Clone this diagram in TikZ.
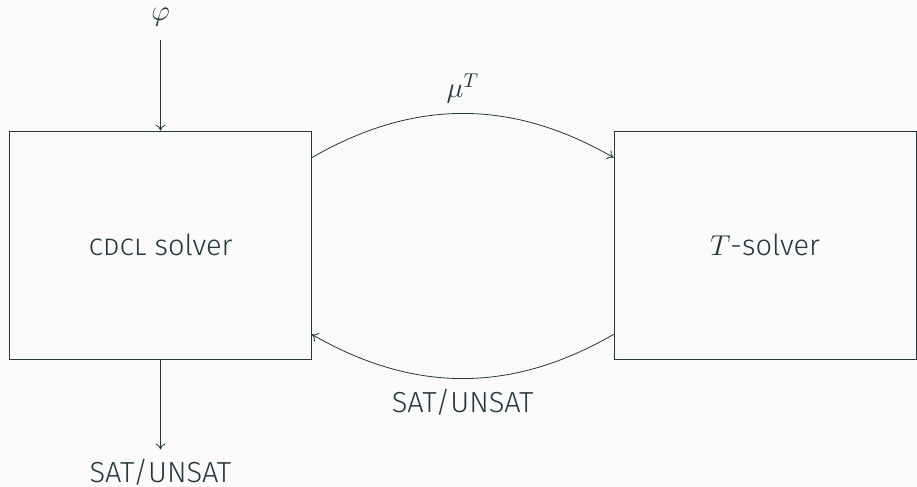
\documentclass[tikz,border=0pt]{standalone}
\usepackage{fontspec}
\setmainfont{Fira Sans}[UprightFont={* Light}, ItalicFont={* Light Italic}, BoldFont={* Medium}]
\usetikzlibrary{arrows.meta}
\definecolor{ink}{HTML}{23373B}
\definecolor{paper}{HTML}{FAFAFA}
\begin{document}
\begin{tikzpicture}[x=0.5pt, y=-0.5pt,
  every node/.style={text=ink, font=\fontsize{14.5}{17}\selectfont},
  block/.style={draw=ink, line width=0.4pt, minimum width=151pt, minimum height=114pt, inner sep=0pt},
  flow/.style={draw=ink, line width=0.4pt, -{To[length=3pt, width=5pt]}},
  lbl/.style={inner sep=2pt}]
  % canvas
  \fill[paper] (0,0) rectangle (917,487);
  \useasboundingbox (0,0) rectangle (917,487);

  % the two solvers
  \node[block] (cdcl) at (160.5,245) {\textsc{cdcl} solver};
  \node[block] (tsolver) at (765,245) {$T$-solver};

  % input formula and final answer
  \node[lbl] (phi) at (160.5,17) {$\varphi$};
  \node[lbl] (result) at (160.5,472) {SAT/UNSAT};
  \draw[flow] ([yshift=-5pt]phi.south) -- (cdcl.north);
  \draw[flow] (cdcl.south) -- ([yshift=2.5pt]result.north);

  % exchange between the solvers
  \draw[flow] ([yshift=-13.5pt]cdcl.north east) to[bend left=30]
    node[lbl, above=3pt] (mu) {$\mu^T$} ([yshift=-13.5pt]tsolver.north west);
  \draw[flow] ([yshift=12.5pt]tsolver.south west) to[bend left=30]
    node[lbl, below=3pt] (answer) {SAT/UNSAT} ([yshift=12.5pt]cdcl.south east);
\end{tikzpicture}
\end{document}
